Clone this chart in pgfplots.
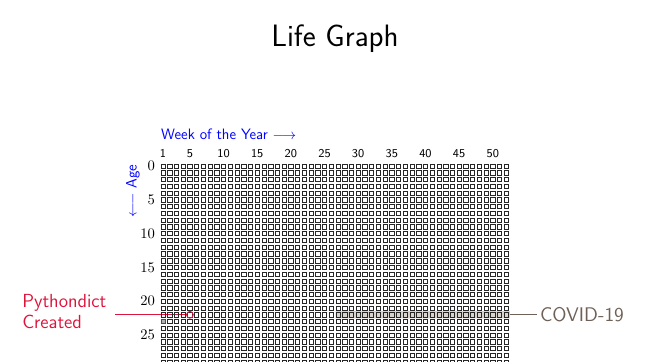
\documentclass[border=0pt]{standalone}
\usepackage{pgfplots}
\pgfplotsset{compat=1.18}
\usepackage{pgfplotstable}
\definecolor{crimson}{HTML}{DC143C}
\definecolor{covid}{RGB}{110,96,86}
\definecolor{band}{RGB}{185,175,165}
\pgfplotstableread{
week row
1 0
2 0
3 0
4 0
5 0
6 0
7 0
8 0
9 0
10 0
11 0
12 0
13 0
14 0
15 0
16 0
17 0
18 0
19 0
20 0
21 0
22 0
23 0
24 0
25 0
26 0
27 0
28 0
29 0
30 0
31 0
32 0
33 0
34 0
35 0
36 0
37 0
38 0
39 0
40 0
41 0
42 0
43 0
44 0
45 0
46 0
47 0
48 0
49 0
50 0
51 0
52 0
}\weeks
\begin{document}
\begin{tikzpicture}
\begin{axis}[
  scale only axis, x=5.0475pt, y=5.07pt, y dir=reverse,
  xmin=0.5, xmax=52.5, ymin=-0.5, ymax=29.5,
  axis line style={draw=none}, tick style={draw=none},
  xtick={1,5,10,15,20,25,30,35,40,45,50},
  xticklabels={1,5,10,15,20,25,30,35,40,45,50},
  xticklabel pos=upper,
  xticklabel style={font=\sffamily\fontsize{9}{10}\selectfont},
  ytick={0,5,10,15,20,25},
  yticklabel style={font=\fontsize{10.5}{12}\selectfont},
  clip=false,
]
\pgfplotsinvokeforeach{0,...,29}{
  \addplot[only marks, mark=square, mark size=1.6pt,
    mark options={line width=0.42pt, draw=black!85, fill=none}]
    table[x=week, y expr=\thisrow{row}+#1] {\weeks};
}
% COVID band
\addplot[draw=none, fill=band, fill opacity=0.55]
  coordinates {(26.65,21.45) (52.55,21.45) (52.55,22.55) (26.65,22.55) (26.65,21.45)};
% current week
\addplot[only marks, mark=square*, mark size=1.6pt,
  mark options={line width=0.45pt, draw=black!70, fill=black!30}]
  coordinates {(1,23)};
% Pythondict created
\addplot[crimson, line width=0.7pt] coordinates {(-6.1,22) (4.6,22)};
\addplot[only marks, mark=o, mark size=2.5pt, mark options={crimson, line width=0.7pt}]
  coordinates {(5,22)};
\node[anchor=west, inner sep=0pt, align=left, text=crimson,
  font=\sffamily\fontsize{14.2}{16}\selectfont] at (axis cs:-19.95,21.5) {Pythondict\\Created};
% COVID
\addplot[covid, line width=0.7pt] coordinates {(52.56,22) (56.6,22)};
\node[anchor=west, inner sep=0pt, text=covid,
  font=\sffamily\fontsize{14.8}{16}\selectfont] at (axis cs:57.0,22) {COVID-19};
% labels
\node[anchor=west, inner sep=0pt, text=blue, font=\sffamily\fontsize{11.3}{13}\selectfont]
  at (axis cs:0.7,-4.73) {Week of the Year $\longrightarrow$};
\node[rotate=90, inner sep=0pt, text=blue, font=\sffamily\fontsize{11.3}{13}\selectfont]
  at (axis cs:-3.46,3.7) {$\longleftarrow$ Age};
\node[font=\sffamily\fontsize{23.2}{26}\selectfont] at (axis cs:26.56,-18.8) {Life Graph};
\coordinate (bl) at (axis cs:-23.22,28.99);
\coordinate (tr) at (axis cs:75.0,-24.56);
\end{axis}
\pgfresetboundingbox
\path[use as bounding box] (bl) rectangle (tr);
\end{tikzpicture}
\end{document}
